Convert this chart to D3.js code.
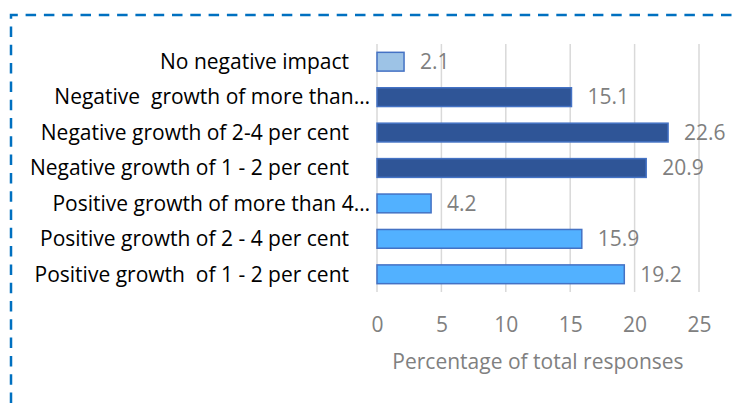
<!DOCTYPE html>
<html>
<head>
<meta charset="utf-8">
<script src="https://cdn.jsdelivr.net/npm/d3@7"></script>
<style>
  html, body { margin: 0; padding: 0; background: #fff; }
  svg { display: block; }
  text { white-space: pre; }
</style>
</head>
<body>
<svg id="chart" width="733" height="403"></svg>
<script>
// Survey responses: expected impact on growth
const categories = [
  "No negative impact",
  "Negative  growth of more than…",
  "Negative growth of 2-4 per cent",
  "Negative growth of 1 - 2 per cent",
  "Positive growth of more than 4…",
  "Positive growth of 2 - 4 per cent",
  "Positive growth  of 1 - 2 per cent"
];
const values = [2.1, 15.1, 22.6, 20.9, 4.2, 15.9, 19.2];
const groups = ["none", "negative", "negative", "negative", "positive", "positive", "positive"];
const xTicks = [0, 5, 10, 15, 20, 25];
const axisTitle = "Percentage of total responses";

const fillFor = { none: "#9DC3E6", negative: "#2F5597", positive: "#52B1FF" };
const font = "'Open Sans', sans-serif";
const fontSize = 21;

const svg = d3.select("#chart");

// dashed frame around the chart area
svg.append("path")
  .attr("d", "M11,403 L11,15 L733,15")
  .attr("fill", "none")
  .attr("stroke", "#0070C0")
  .attr("stroke-width", 2.5)
  .attr("stroke-dasharray", "10.5,7.8");

const plot = { left: 377, right: 699, top: 44, bottom: 292 };

const x = d3.scaleLinear().domain([0, 25]).range([plot.left, plot.right]);
const y = d3.scaleBand().domain(categories).range([plot.top, plot.bottom]).paddingInner(0.47).paddingOuter(0.235);

// vertical gridlines
svg.append("g")
  .selectAll("line")
  .data(xTicks)
  .join("line")
  .attr("x1", d => x(d)).attr("x2", d => x(d))
  .attr("y1", plot.top).attr("y2", plot.bottom)
  .attr("stroke", "#D9D9D9")
  .attr("stroke-width", 1.5);

// x axis tick labels
const xAxis = d3.axisBottom(x).tickValues(xTicks).tickSize(0).tickPadding(0);
const gx = svg.append("g").attr("transform", `translate(0,${plot.bottom})`).call(xAxis);
gx.select(".domain").remove();
gx.selectAll("text")
  .attr("dy", "0.35em")
  .attr("y", 33)
  .attr("font-family", font)
  .attr("font-size", fontSize)
  .attr("fill", "#808080");

// axis title
svg.append("text")
  .attr("x", (plot.left + plot.right) / 2)
  .attr("y", 362)
  .attr("dy", "0.35em")
  .attr("text-anchor", "middle")
  .attr("font-family", font)
  .attr("font-size", fontSize)
  .attr("fill", "#808080")
  .text(axisTitle);

// bars
svg.append("g")
  .selectAll("rect")
  .data(categories)
  .join("rect")
  .attr("x", x(0))
  .attr("y", d => y(d))
  .attr("width", (d, i) => x(values[i]) - x(0))
  .attr("height", y.bandwidth())
  .attr("fill", (d, i) => fillFor[groups[i]])
  .attr("stroke", "#4472C4")
  .attr("stroke-width", 1.5);

// value labels
svg.append("g")
  .selectAll("text")
  .data(categories)
  .join("text")
  .attr("x", (d, i) => x(values[i]) + 16)
  .attr("y", d => y(d) + y.bandwidth() / 2)
  .attr("dy", "0.35em")
  .attr("font-family", font)
  .attr("font-size", fontSize)
  .attr("fill", "#7F7F7F")
  .text((d, i) => values[i].toFixed(1));

// category labels
svg.append("g")
  .selectAll("text")
  .data(categories)
  .join("text")
  .attr("x", d => d.endsWith("…") ? 370 : 349)
  .attr("y", d => y(d) + y.bandwidth() / 2)
  .attr("dy", "0.35em")
  .attr("text-anchor", "end")
  .attr("font-family", font)
  .attr("font-size", fontSize)
  .attr("fill", "#000")
  .text(d => d);
</script>
</body>
</html>
